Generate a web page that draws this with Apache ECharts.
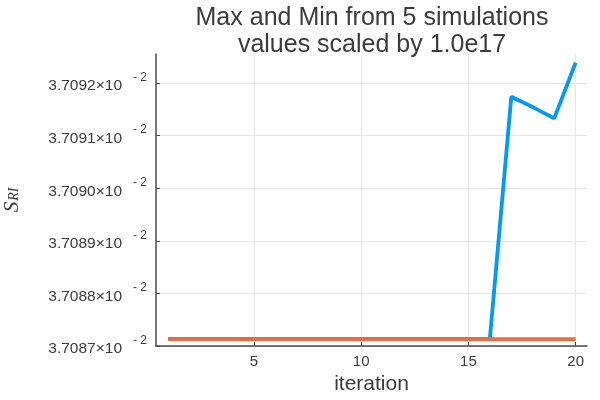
<!DOCTYPE html>
<html>
<head>
<meta charset="utf-8">
<script src="https://cdn.jsdelivr.net/npm/echarts@6/dist/echarts.min.js"></script>
<style>html,body{margin:0;padding:0;background:#fff;}#c{width:600px;height:400px;}</style>
</head>
<body>
<div id="c"></div>
<script>
// iteration numbers
var iterations = [1,2,3,4,5,6,7,8,9,10,11,12,13,14,15,16,17,18,19,20];
// values in units of 1e-2 (labels show ×10^-2)
var maxValues = [3.7087134,3.7087134,3.7087134,3.7087134,3.7087134,3.7087134,3.7087134,3.7087134,3.7087134,3.7087134,
                 3.7087134,3.7087134,3.7087134,3.7087134,3.7087134,3.7087134,3.7091739,3.7091543,3.7091328,3.7092387];
var minValues = [3.7087128,3.7087128,3.7087128,3.7087128,3.7087128,3.7087128,3.7087128,3.7087128,3.7087128,3.7087128,
                 3.7087128,3.7087128,3.7087128,3.7087128,3.7087128,3.7087128,3.7087128,3.7087128,3.7087128,3.7087128];
var xTicks = [5,10,15,20];
var yTicks = [3.7087,3.7088,3.7089,3.7090,3.7091,3.7092];

var chart = echarts.init(document.getElementById('c'), null, {renderer:'canvas'});
var font = 'Liberation Sans, Helvetica, Arial, sans-serif';
var txt = '#3b3b3b';
function pairs(xs, ys){ return xs.map(function(x,i){ return [x, ys[i]]; }); }

chart.setOption({
  animation:false,
  backgroundColor:'#fff',
  title:{
    text:'Max and Min from 5 simulations\nvalues scaled by 1.0e17',
    left:367, top:0, textAlign:'center',
    textStyle:{fontFamily:font, fontSize:25, fontWeight:'normal', color:txt, lineHeight:27}
  },
  grid:{left:156, right:13, top:54, bottom:54, containLabel:false, outerBoundsMode:'none'},
  xAxis:{
    type:'value', min:0.43, max:20.53,
    name:'iteration', nameLocation:'middle', nameGap:28,
    nameTextStyle:{fontFamily:font, fontSize:21, color:txt},
    axisLine:{show:true, onZero:false, lineStyle:{color:'#4a4a4a', width:1.5}},
    axisTick:{show:true, inside:true, length:4, customValues:xTicks, lineStyle:{color:'#4a4a4a', width:1}},
    axisLabel:{customValues:xTicks, margin:8, fontFamily:font, fontSize:15, color:txt},
    splitLine:{show:true, lineStyle:{color:'#e6e6e6', width:1}}
  },
  yAxis:{
    type:'value', min:3.70870, max:3.7092552,
    name:'{s|S}{sub|RI}', nameLocation:'middle', nameGap:133, nameRotate:90,
    nameTextStyle:{
      rich:{
        s:{fontFamily:'Liberation Serif, serif', fontStyle:'italic', fontSize:21, color:txt, padding:[3,0,0,0]},
        sub:{fontFamily:'Liberation Serif, serif', fontStyle:'italic', fontSize:14, color:txt, padding:[7,0,0,1]}
      }
    },
    axisLine:{show:true, onZero:false, lineStyle:{color:'#4a4a4a', width:1.5}},
    axisTick:{show:true, inside:true, length:4, customValues:yTicks, lineStyle:{color:'#4a4a4a', width:1}},
    axisLabel:{
      customValues:yTicks, margin:9,
      formatter:function(v){ return '{m|' + v.toFixed(4) + '×10}{e|- 2}'; },
      rich:{
        m:{fontFamily:font, fontSize:15.5, color:txt, padding:[6,0,0,0]},
        e:{fontFamily:font, fontSize:12, color:txt, padding:[0,0,11,11]}
      }
    },
    splitLine:{show:true, lineStyle:{color:'#e6e6e6', width:1}}
  },
  series:[
    {type:'line', data:pairs(iterations, maxValues), showSymbol:false, symbol:'none',
     lineStyle:{color:'#009afa', width:3.8}, z:2},
    {type:'line', data:pairs(iterations, minValues), showSymbol:false, symbol:'none',
     lineStyle:{color:'#e26f46', width:3.8}, z:3}
  ]
});
</script>
</body>
</html>
